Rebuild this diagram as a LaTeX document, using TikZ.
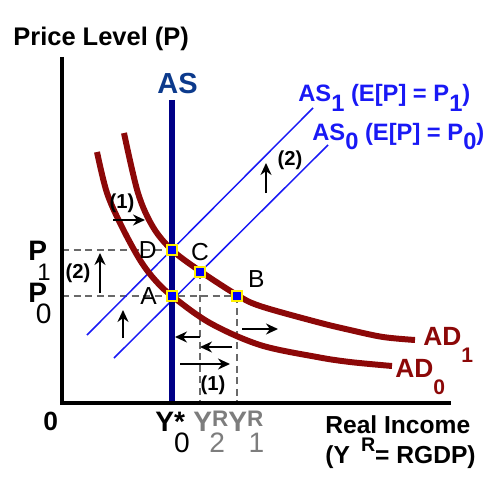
\documentclass[tikz,border=0pt]{standalone}
\usepackage{fontspec}
\setmainfont{Liberation Sans}
\usepackage{tikz}
\usetikzlibrary{arrows.meta,positioning}
\definecolor{adred}{RGB}{140,8,8}
\definecolor{asnavy}{RGB}{0,0,135}
\definecolor{aslabel}{RGB}{12,58,140}
\definecolor{asblue}{RGB}{25,25,245}
\definecolor{guidegray}{RGB}{105,105,105}
\definecolor{ygray}{RGB}{125,125,125}
\definecolor{ptyellow}{RGB}{255,240,0}
\definecolor{ptblue}{RGB}{0,0,250}
\newcommand{\fs}[1]{\fontsize{#1}{#1}\selectfont}
\newcommand{\dn}[1]{\raisebox{-0.78em}{#1}}
\newcommand{\dnp}[1]{\raisebox{-0.72em}{\scalebox{0.85}{#1}}}
\newcommand{\hdn}[1]{\raisebox{-0.42em}{#1}}
\newcommand{\dnsm}[1]{\raisebox{-0.68em}{\scalebox{0.8}{#1}}}
\newcommand{\upR}{\rlap{\raisebox{0.16em}{\scalebox{0.8}{R}}}}

\begin{document}
\begin{tikzpicture}[
  x=0.02cm, y=-0.02cm,
  axis/.style={line width=2.8pt},
  asv/.style={draw=asnavy, line width=2.9pt},
  asline/.style={draw=asblue, line width=0.85pt},
  adcurve/.style={draw=adred, line width=3.4pt},
  guide/.style={draw=guidegray, line width=0.8pt, dash pattern=on 4pt off 2.6pt},
  shiftarr/.style={-{Stealth[length=2.4mm, width=2.2mm]}, line width=1pt},
  pt/.style={rectangle, draw=ptyellow, fill=ptblue, line width=1.3pt,
             minimum size=1.9mm, inner sep=0pt},
  ptlbl/.style={font=\fs{14}, inner sep=0pt},
  txt/.style={inner sep=0pt, anchor=base west},
  parlbl/.style={font=\fs{11.5}\bfseries, inner sep=0pt},
  ]
  \useasboundingbox (0,0) rectangle (500,500);
  \coordinate (O) at (62,403);
  \coordinate (ytop) at (62,57);
  \coordinate (xend) at (451,403);
  \coordinate (astop) at (172,100);
  \coordinate (pA) at (172,296);
  \coordinate (pB) at (237,296);
  \coordinate (pC) at (200,272);
  \coordinate (pD) at (172,250);
  \coordinate (as1a) at (87,335);
  \coordinate (as1b) at (313,108);
  \coordinate (as0a) at (114,358);
  \coordinate (as0b) at (328,145);

  \draw[guide] (pD -| O) -- (pD);
  \draw[guide] (pA -| O) -- (pB);
  \draw[guide] (pC) -- (pC |- O);
  \draw[guide] (pB) -- (pB |- O);

  \draw[asline] (as1a) -- (as1b);
  \draw[asline] (as0a) -- (as0b);

  \draw[adcurve] plot[smooth, tension=0.55] coordinates {(97,152) (107,193) (122,227)
    (140,260) (155,280) (172,296) (210,323) (260,345) (317,357) (350,362) (392,366)};
  \draw[adcurve] plot[smooth, tension=0.55] coordinates {(124,133) (138,193) (153,227)
    (172,250) (200,271) (237,295) (260,306) (317,322) (350,330) (383,337) (415,340)};

  \draw[asv] (astop) -- (astop |- O);
  \draw[axis] (ytop) -- (O) -- (xend);

  \node[pt] (A) at (pA) {};
  \node[pt] (B) at (pB) {};
  \node[pt] (C) at (pC) {};
  \node[pt] (D) at (pD) {};
  \node[ptlbl, left=1.8mm of A] (Albl) {A};
  \node[ptlbl, above right=0.4mm and 1mm of B] (Blbl) {B};
  \node[ptlbl, above=1.1mm of C] (Clbl) {C};
  \node[ptlbl, left=1.8mm of D] (Dlbl) {D};

  \draw[shiftarr] (113,220) -- (145,220);
  \draw[shiftarr] (266,193) -- (266,163);
  \draw[shiftarr] (100,293) -- (100,253);
  \draw[shiftarr] (123,338) -- (123,310);
  \draw[shiftarr] (200,337) -- (175,337);
  \draw[shiftarr] (232,347) -- (200,347);
  \draw[shiftarr] (180,364) -- (230,364);
  \draw[shiftarr] (242,329) -- (278,329);
  \node[parlbl] (s1top) at (122,203) {(1)};
  \node[parlbl] (s1bot) at (213,385) {(1)};
  \node[parlbl] (s2left) at (78,273) {(2)};
  \node[parlbl] (s2top) at (290,160) {(2)};

  \node[txt, font=\fs{14.5}\bfseries] (ytitle) at (13,46) {Price Level (P)};
  \node[txt, font=\fs{16.5}\bfseries, text=aslabel] (aslbl) at (157,93) {AS};
  \node[txt, font=\fs{13.5}\bfseries, text=asblue] (as1lbl) at (298,102)
    {AS\hdn{1} (E[P] = P\hdn{1})};
  \node[txt, font=\fs{13.5}\bfseries, text=asblue] (as0lbl) at (312,140)
    {AS\hdn{0} (E[P] = P\hdn{0})};
  \node[txt, font=\fs{15}\bfseries, text=adred] (ad1lbl) at (423,345) {AD\dnsm{1}};
  \node[txt, font=\fs{15}\bfseries, text=adred] (ad0lbl) at (395,377) {AD\dnsm{0}};
  \node[txt, font=\fs{16}\bfseries] (p1lbl) at (28,260) {P\kern-0.35em\dnp{\mdseries 1}};
  \node[txt, font=\fs{16}\bfseries] (p0lbl) at (28,302) {P\kern-0.4em\dn{\mdseries 0}};
  \node[txt, font=\fs{15}\bfseries] (origin) at (43,430) {0};
  \node[txt, font=\fs{16}\bfseries] (y0lbl) at (155,431)
    {Y\rlap{*}\dn{\mdseries 0}};
  \node[txt, font=\fs{16}\bfseries, text=ygray] (y2lbl) at (193,431)
    {Y\upR\kern-0.1em\dn{\mdseries 2}};
  \node[txt, font=\fs{16}\bfseries, text=ygray] (y1lbl) at (228,431)
    {Y\upR\kern0.05em\dn{\mdseries 1}};
  \node[txt, font=\fs{14}\bfseries] (xlbl1) at (325,433) {Real Income};
  \node[txt, font=\fs{14}\bfseries] (xlbl2) at (325,463)
    {(Y\hspace{0.45em}\raisebox{0.45em}{\scalebox{0.8}{R}}= RGDP)};
\end{tikzpicture}
\end{document}
